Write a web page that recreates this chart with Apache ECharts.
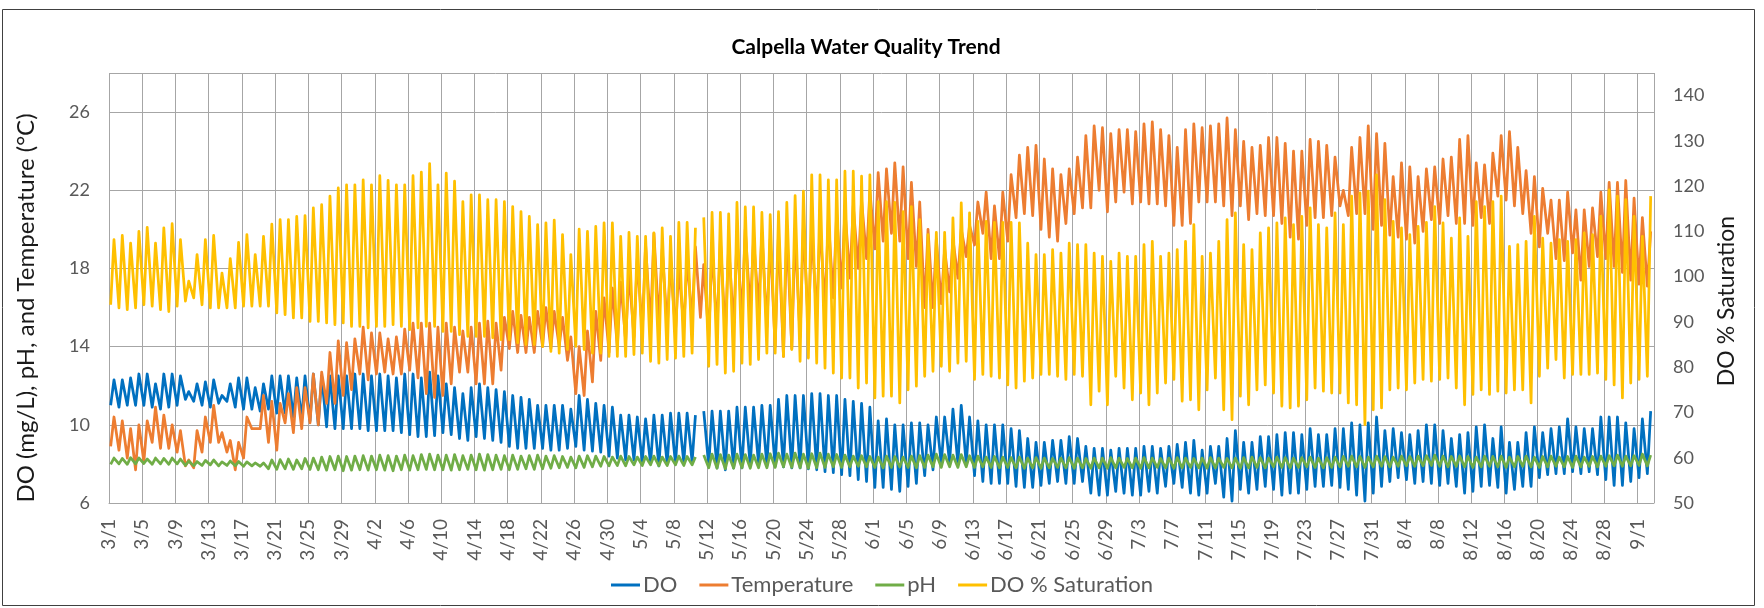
<!DOCTYPE html>
<html>
<head>
<meta charset="utf-8">
<title>Calpella Water Quality Trend</title>
<script src="https://cdn.jsdelivr.net/npm/echarts@6/dist/echarts.min.js"></script>
<style>
  html, body { margin: 0; padding: 0; background: #fff; }
  #chart { width: 1764px; height: 608px; }
</style>
</head>
<body>
<div id="chart"></div>
<script>
// x axis tick labels, one every 4 days starting 3/1
const dateLabels = ['3/1', '3/5', '3/9', '3/13', '3/17', '3/21', '3/25', '3/29',
  '4/2', '4/6', '4/10', '4/14', '4/18', '4/22', '4/26', '4/30',
  '5/4', '5/8', '5/12', '5/16', '5/20', '5/24', '5/28',
  '6/1', '6/5', '6/9', '6/13', '6/17', '6/21', '6/25', '6/29',
  '7/3', '7/7', '7/11', '7/15', '7/19', '7/23', '7/27', '7/31',
  '8/4', '8/8', '8/12', '8/16', '8/20', '8/24', '8/28', '9/1']

// daily highs / lows, day 0 = 3/1 (null = no reading)
const doMax = [
  12.3, 12.3, 12.4, 12.6, 12.6, 12.1, 12.6, 12.6, 12.5, 11.7,
  12.1, 12.2, 12.3, 11.5, 12.1, 12.4, 12.4, 11.9, 12.1, 12.5,
  12.5, 12.5, 12.4, 12.5, 12.6, 12.5, 12.5, 12.5, 12.5, 12.6,
  12.6, 12.5, 12.6, 12.5, 12.4, 12.6, 12.6, 12.4, 12.7, 12.5,
  12.1, 11.9, 11.6, 11.9, 12.1, 11.9, 11.8, 11.7, 11.5, 11.4,
  11.3, 11.0, 11.0, 11.0, 11.0, 10.8, 11.5, 11.3, 11.1, 11.0,
  10.9, 10.5, 10.5, 10.4, 10.3, 10.5, 10.5, 10.6, 10.6, 10.6,
  10.5, 10.7, 10.7, 10.7, 10.7, 10.9, 10.9, 10.9, 11.0, 11.0,
  11.3, 11.5, 11.5, 11.5, 11.6, 11.6, 11.5, 11.5, 11.3, 11.2,
  11.1, 10.9, 10.2, 10.3, 10.0, 10.0, 10.1, 10.1, 10.0, 10.4,
  10.4, 10.8, 11.0, 10.4, 10.2, 10.0, 10.0, 10.0, 9.8, 9.7,
  9.3, 9.1, 9.1, 9.2, 9.2, 9.4, 9.3, 8.9, 8.8, 8.8,
  8.7, 8.8, 8.8, 8.8, 8.9, 8.9, 8.8, 8.9, 9.0, 9.1,
  9.2, 8.7, 8.9, 8.9, 9.3, 9.7, 9.1, 9.1, 9.4, 9.4,
  9.5, 9.6, 9.6, 9.5, 9.8, 9.5, 9.5, 9.8, 9.8, 10.1,
  10.0, 10.1, 10.4, 9.7, 9.8, 9.6, 9.5, 9.7, 10.0, 10.0,
  9.7, 9.3, 9.5, 9.6, 9.9, 10.0, 9.3, 9.9, 9.1, 9.1,
  9.6, 9.9, 9.6, 9.8, 9.9, 10.3, 9.9, 9.8, 9.8, 10.4,
  10.4, 10.4, 10.1, 9.8, 10.3, 10.7]
const doMin = [
  11.0, 10.9, 11.0, 11.0, 11.0, 10.9, 10.8, 10.9, 11.0, 11.3,
  11.2, 11.0, 10.9, 11.1, 11.2, 10.9, 10.8, 10.8, 10.7, 10.8,
  10.6, 10.6, 10.4, 10.3, 10.2, 10.0, 9.9, 9.8, 9.8, 9.8,
  9.8, 9.7, 9.7, 9.7, 9.7, 9.6, 9.5, 9.4, 9.4, 9.45,
  9.6, 9.5, 9.3, 9.2, 9.4, 9.3, 9.2, 9.1, 8.9, 8.8,
  8.8, 8.8, 8.8, 8.7, 8.7, 8.8, 8.9, 8.7, 8.65, 8.6,
  8.4, 8.3, 8.2, 8.2, 8.1, 8.0, 7.9, 8.0, 8.0, 8.05,
  8.1, null, 7.9, 7.8, 7.7, 7.8, 7.8, 7.9, 8.0, 7.9,
  7.9, 7.85, 7.8, 7.8, 7.75, 7.7, 7.6, 7.55, 7.45, 7.4,
  7.2, 7.1, 6.8, 6.8, 6.7, 6.6, 6.85, 7.0, 7.4, 7.7,
  8.0, 8.05, 8.0, 8.0, 7.4, 7.1, 7.0, 7.0, 7.0, 6.85,
  6.8, 6.8, 6.9, 7.0, 7.1, 7.0, 7.0, 7.1, 6.5, 6.4,
  6.4, 6.6, 6.5, 6.4, 6.4, 6.6, 6.5, 6.85, 7.0, 6.8,
  6.5, 6.4, 6.5, 7.0, 6.3, 6.1, 6.7, 6.5, 6.7, 6.85,
  6.7, 6.4, 6.5, 6.5, 6.7, 6.85, 6.85, 6.9, 6.8, 6.7,
  6.4, 6.1, 6.5, 6.85, 7.1, 7.3, 7.2, 7.0, 7.1, 7.0,
  6.9, 7.0, 6.85, 6.5, 6.6, 6.85, 6.9, 6.8, 6.5, 6.7,
  6.85, 6.85, 7.3, 7.45, 7.5, 7.5, 7.6, 7.5, 7.6, 7.45,
  7.2, 6.9, 6.9, 7.1, 7.3, 7.5]

const tempMax = [
  10.4, 10.2, 9.8, 10.0, 10.2, 10.9, 10.5, 10.0, 9.7, 8.2,
  9.7, 10.4, 11.0, 9.6, 9.2, 9.1, 10.4, 9.8, 11.5, 11.2,
  11.1, 11.6, 11.9, 11.9, 12.6, 12.7, 13.7, 14.3, 14.2, 14.4,
  15.0, 14.7, 14.7, 14.4, 14.5, 14.9, 15.2, 15.2, 15.2, 15.0,
  15.2, 15.0, 14.8, 15.0, 15.2, 15.3, 15.2, 15.5, 15.8, 15.6,
  15.5, 15.8, 16.0, 15.8, 15.5, 14.5, 14.0, 14.8, 15.8, 16.5,
  17.0, 17.3, 17.8, 18.5, 19.2, 19.8, 19.0, 18.3, 18.0, 18.5,
  19.1, 18.2, 19.0, 19.5, 19.2, 19.6, 20.0, 19.5, 19.8, 19.5,
  19.8, 20.0, 19.8, 20.2, 20.0, 20.3, 20.5, 20.8, 21.0, 21.2,
  21.5, 22.0, 22.9, 23.1, 23.4, 23.2, 22.4, 21.4, 20.0, 19.5,
  19.0, 19.5, 20.0, 20.2, 21.4, 21.9, 21.2, 21.9, 22.8, 23.8,
  24.2, 24.3, 23.6, 23.1, 22.8, 23.1, 23.7, 24.8, 25.3, 25.2,
  24.9, 25.1, 25.1, 25.0, 25.4, 25.5, 25.1, 24.8, 24.2, 25.1,
  25.4, 25.2, 25.3, 25.4, 25.7, 25.1, 24.5, 24.2, 24.3, 24.7,
  24.7, 24.4, 24.0, 24.0, 24.6, 24.5, 24.3, 23.7, 22.0, 24.2,
  24.7, 25.3, 24.9, 24.4, 22.7, 23.4, 23.2, 22.7, 23.1, 23.2,
  23.6, 23.7, 24.6, 24.8, 23.4, 23.3, 23.9, 24.8, 25.0, 24.2,
  23.0, 22.7, 22.1, 21.5, 21.5, 21.9, 21.0, 21.0, 21.1, 21.9,
  22.4, 22.4, 22.5, 21.6, 20.6, 19.9]
const tempMin = [
  8.9, 8.7, 8.3, 7.7, 8.1, 9.1, 8.8, 8.8, 8.6, 7.9,
  7.8, 8.6, 9.1, 9.1, 8.6, 7.7, 8.3, 9.8, 9.8, 9.1,
  8.7, 10.1, 9.6, 9.8, 10.1, 10.0, 11.1, 11.1, 11.5, 11.8,
  12.6, 12.3, 12.6, 12.7, 12.6, 12.6, 12.8, 12.4, 11.6, 11.4,
  11.5, 12.1, 12.7, 12.7, 12.1, 12.1, 12.1, 12.8, 13.9, 13.7,
  13.7, 13.7, 14.0, 13.9, 14.0, 13.3, 11.6, 11.5, 12.2, 13.3,
  13.7, 14.0, 14.3, 14.5, 14.8, 15.0, 15.2, 15.0, 14.8, 15.0,
  15.3, 15.5, 14.5, 14.8, 14.6, 15.0, 15.5, 15.8, 16.0, 15.0,
  14.0, 13.5, 13.9, 14.5, 15.0, 15.5, 16.0, 16.5, 17.0, 17.5,
  18.0, 18.5, 19.0, 19.4, 19.8, 19.4, 18.5, 18.1, 16.0, 16.0,
  16.2, 16.8, 17.5, 18.6, 19.2, 19.8, 18.5, 18.5, 19.4, 20.6,
  20.8, 20.7, 20.0, 19.6, 19.4, 20.3, 20.8, 21.1, 21.1, 22.0,
  20.9, 21.4, 21.9, 21.3, 21.4, 21.3, 21.3, 21.2, 20.2, 20.2,
  20.3, 21.4, 21.4, 21.4, 21.2, 20.7, 21.2, 20.5, 20.8, 20.7,
  20.7, 20.3, 19.6, 19.5, 20.2, 20.6, 20.6, 20.7, 21.2, 20.7,
  20.8, 20.8, 20.0, 20.2, 19.7, 19.6, 19.5, 19.3, 19.9, 20.5,
  20.3, 20.7, 20.3, 20.3, 20.2, 20.6, 20.3, 21.7, 21.5, 21.2,
  20.8, 19.8, 19.1, 19.8, 18.5, 18.4, 18.8, 17.4, 18.1, 18.6,
  18.5, 18.1, 17.8, 17.4, 17.2, 17.1]

const phMax = [
  8.3, 8.28, 8.32, 8.3, 8.25, 8.3, 8.28, 8.3, 8.25, 8.15,
  8.12, 8.18, 8.2, 8.1, 8.15, 8.12, 8.1, 8.05, 8.05, 8.2,
  8.22, 8.25, 8.2, 8.28, 8.3, 8.35, 8.38, 8.4, 8.38, 8.4,
  8.42, 8.4, 8.45, 8.42, 8.4, 8.45, 8.42, 8.48, 8.5, 8.45,
  8.45, 8.48, 8.42, 8.45, 8.5, 8.48, 8.45, 8.42, 8.45, 8.4,
  8.42, 8.45, 8.4, 8.42, 8.38, 8.35, 8.4, 8.42, 8.4, 8.38,
  8.35, 8.4, 8.38, 8.35, 8.38, 8.4, 8.35, 8.38, 8.4, 8.38,
  8.35, 8.45, 8.5, 8.48, 8.45, 8.5, 8.48, 8.45, 8.5, 8.52,
  8.55, 8.5, 8.55, 8.5, 8.52, 8.55, 8.5, 8.48, 8.45, 8.4,
  8.42, 8.38, 8.35, 8.4, 8.38, 8.35, 8.4, 8.42, 8.45, 8.5,
  8.48, 8.45, 8.48, 8.42, 8.4, 8.35, 8.38, 8.35, 8.32, 8.35,
  8.3, 8.32, 8.3, 8.28, 8.3, 8.32, 8.3, 8.28, 8.3, 8.3,
  8.32, 8.3, 8.28, 8.3, 8.32, 8.3, 8.28, 8.3, 8.32, 8.3,
  8.28, 8.3, 8.32, 8.3, 8.28, 8.3, 8.32, 8.35, 8.32, 8.3,
  8.35, 8.32, 8.3, 8.32, 8.35, 8.3, 8.32, 8.35, 8.38, 8.4,
  8.38, 8.35, 8.4, 8.38, 8.35, 8.4, 8.38, 8.4, 8.42, 8.45,
  8.4, 8.38, 8.4, 8.38, 8.35, 8.4, 8.38, 8.4, 8.35, 8.38,
  8.4, 8.35, 8.38, 8.4, 8.35, 8.38, 8.4, 8.35, 8.38, 8.4,
  8.42, 8.45, 8.4, 8.42, 8.5, 8.45]
const phMin = [
  7.98, 8.0, 7.98, 8.0, 8.02, 7.98, 8.0, 7.98, 8.0, 7.92,
  7.9, 7.92, 7.95, 7.9, 7.92, 7.9, 7.88, 7.9, 7.88, 7.75,
  7.72, 7.75, 7.72, 7.75, 7.72, 7.7, 7.68, 7.7, 7.65, 7.68,
  7.7, 7.68, 7.7, 7.68, 7.65, 7.7, 7.68, 7.7, 7.72, 7.7,
  7.7, 7.68, 7.7, 7.72, 7.7, 7.68, 7.7, 7.72, 7.7, 7.72,
  7.75, 7.72, 7.75, 7.78, 7.8, 7.82, 7.8, 7.82, 7.85, 7.88,
  7.9, 7.92, 7.9, 7.95, 7.92, 7.95, 7.9, 7.92, 7.95, 7.92,
  7.95, null, 7.8, 7.78, 7.75, 7.78, 7.8, 7.78, 7.8, 7.8,
  7.82, 7.85, 7.82, 7.8, 7.78, 7.8, 7.82, 7.85, 7.82, 7.85,
  7.88, 7.85, 7.82, 7.8, 7.82, 7.85, 7.82, 7.8, 7.82, 7.85,
  7.82, 7.85, 7.82, 7.85, 7.82, 7.85, 7.82, 7.8, 7.82, 7.8,
  7.78, 7.8, 7.78, 7.8, 7.82, 7.8, 7.78, 7.8, 7.78, 7.8,
  7.78, 7.8, 7.82, 7.8, 7.78, 7.8, 7.82, 7.8, 7.78, 7.8,
  7.82, 7.8, 7.78, 7.8, 7.82, 7.8, 7.78, 7.8, 7.82, 7.8,
  7.85, 7.82, 7.8, 7.82, 7.85, 7.82, 7.8, 7.82, 7.85, 7.88,
  7.85, 7.82, 7.85, 7.88, 7.85, 7.88, 7.9, 7.88, 7.9, 7.92,
  7.88, 7.85, 7.88, 7.85, 7.82, 7.85, 7.88, 7.85, 7.82, 7.85,
  7.88, 7.85, 7.82, 7.85, 7.88, 7.85, 7.82, 7.85, 7.88, 7.85,
  7.88, 7.9, 7.88, 7.9, 7.92, 7.9]

const satMax = [
  108.2, 109.1, 107.4, 110.0, 110.9, 107.4, 110.8, 111.7, 108.2, 99.0,
  104.9, 108.2, 109.1, 100.8, 104.0, 107.6, 109.3, 104.9, 108.9, 111.6,
  112.6, 112.6, 113.3, 113.5, 115.2, 115.9, 117.8, 119.6, 120.3, 120.3,
  121.4, 120.3, 122.3, 121.3, 120.3, 120.3, 122.3, 123.1, 125.0, 120.3,
  122.9, 121.1, 116.6, 118.1, 118.1, 117.0, 117.0, 116.6, 115.5, 114.4,
  113.3, 111.5, 111.9, 112.5, 109.3, 104.9, 110.5, 110.0, 111.1, 111.9,
  111.9, 108.9, 109.8, 108.9, 108.9, 109.7, 110.8, 108.9, 112.0, 112.0,
  110.8, 113.1, 114.2, 114.2, 113.9, 116.4, 115.4, 115.4, 114.2, 113.7,
  114.4, 116.4, 117.9, 118.9, 122.5, 122.5, 121.4, 121.4, 123.3, 123.3,
  122.2, 122.5, 116.6, 116.6, 116.4, 114.4, 115.5, 112.6, 109.3, 109.8,
  109.8, 113.0, 116.3, 114.1, 112.2, 112.2, 112.0, 112.0, 112.0, 111.9,
  107.4, 104.9, 104.9, 106.0, 105.2, 107.4, 107.1, 107.1, 105.2, 104.5,
  103.4, 105.2, 104.5, 104.5, 107.1, 107.8, 104.5, 105.2, 106.0, 107.8,
  111.5, 104.5, 105.2, 107.8, 112.6, 114.1, 107.1, 106.0, 109.7, 110.8,
  111.9, 113.0, 111.5, 113.3, 115.2, 111.5, 110.8, 114.1, 111.5, 117.8,
  118.5, 118.9, 122.5, 117.0, 112.2, 110.8, 109.3, 111.1, 112.0, 115.5,
  111.9, 108.5, 113.0, 108.9, 116.6, 115.5, 116.6, 117.8, 106.7, 107.1,
  107.8, 113.3, 108.5, 107.4, 108.2, 107.8, 108.2, 109.7, 109.3, 113.3,
  119.2, 117.8, 117.0, 113.3, 108.9, 117.8]
const satMin = [
  93.8, 93.1, 92.7, 93.1, 93.8, 93.5, 92.7, 92.3, 93.5, 94.6,
  95.3, 93.8, 93.1, 93.1, 93.1, 93.1, 93.5, 93.5, 93.5, 93.5,
  92.0, 91.6, 90.9, 90.9, 90.1, 90.1, 89.8, 89.4, 89.8, 89.0,
  89.0, 88.7, 89.0, 89.0, 89.4, 89.0, 88.3, 88.7, 89.0, 89.0,
  87.9, 87.9, 87.2, 86.8, 86.8, 86.8, 86.5, 86.1, 86.1, 85.4,
  85.0, 85.0, 84.6, 83.5, 83.1, 83.9, 84.6, 83.9, 83.1, 83.1,
  82.4, 82.4, 82.4, 82.8, 83.1, 81.3, 80.9, 81.7, 82.0, 82.4,
  83.1, null, 80.2, 80.6, 78.7, 79.1, 80.9, 80.6, 81.7, 83.1,
  83.1, 82.4, 83.9, 81.3, 82.0, 80.9, 79.8, 78.7, 77.6, 77.6,
  75.4, 76.5, 73.2, 73.6, 73.6, 72.1, 75.0, 75.8, 78.0, 79.1,
  80.2, 79.1, 80.9, 81.3, 77.3, 78.4, 78.0, 77.6, 76.1, 75.4,
  76.9, 77.6, 78.4, 78.4, 78.0, 77.3, 78.4, 78.0, 71.7, 74.7,
  71.7, 78.0, 75.4, 72.8, 74.3, 71.7, 74.3, 76.5, 77.3, 72.5,
  72.8, 70.6, 75.0, 77.6, 70.6, 68.4, 73.6, 71.7, 75.0, 76.1,
  74.3, 71.4, 71.0, 71.4, 72.8, 75.4, 74.7, 74.3, 74.3, 72.1,
  71.7, 67.3, 70.6, 71.0, 75.0, 75.4, 75.0, 76.5, 77.3, 76.9,
  77.3, 77.6, 75.4, 71.7, 74.0, 75.0, 74.0, 74.7, 74.3, 75.0,
  75.0, 72.1, 78.0, 79.8, 81.7, 77.6, 78.4, 78.4, 78.4, 78.7,
  77.3, 76.1, 73.2, 76.5, 77.3, 78.0]

// each day: low in the early morning, high in the afternoon
function dailyPoints(lows, highs) {
    const pts = []
    for (let d = 0; d < lows.length; d++) {
        pts.push([d + 0.2, lows[d] == null ? '-' : lows[d]])
        pts.push([d + 0.6, highs[d] == null ? '-' : highs[d]])
    }
    return pts
}

const FONT = 'Lato, "Noto Sans", sans-serif'
const GRID = '#a6a6a6'

const chart = echarts.init(document.getElementById('chart'))

const lineSeries = (name, color, axis, lows, highs) => ({
    name,
    type: 'line',
    yAxisIndex: axis,
    showSymbol: false,
    symbol: 'none',
    connectNulls: false,
    lineStyle: { color, width: 2.75, join: 'round' },
    itemStyle: { color },
    data: dailyPoints(lows, highs)
})

chart.setOption({
    animation: false,
    backgroundColor: '#fff',
    textStyle: { fontFamily: FONT },
    title: {
        text: 'Calpella Water Quality Trend',
        left: 861,
        textAlign: 'center',
        top: 32,
        textStyle: { fontFamily: FONT, fontSize: 21, fontWeight: 'bold', color: '#000' }
    },
    graphic: [{
        type: 'rect',
        shape: { x: 2.5, y: 9.5, width: 1752, height: 596 },
        style: { fill: 'none', stroke: '#404040', lineWidth: 1 },
        silent: true
    }],
    legend: {
        left: 'center',
        top: 569,
        icon: 'rect',
        itemWidth: 29,
        itemHeight: 3,
        itemGap: 22,
        textStyle: { fontFamily: FONT, fontSize: 22, color: '#595959', padding: [0, 0, 0, -2] },
        data: ['DO', 'Temperature', 'pH', 'DO % Saturation']
    },
    grid: { left: 109, right: 110, top: 73, bottom: 105, containLabel: false },
    xAxis: {
        type: 'value',
        min: 0,
        max: 186,
        interval: 4,
        axisLine: { show: true, lineStyle: { color: GRID } },
        axisTick: { show: false },
        splitLine: { show: true, lineStyle: { color: GRID, width: 1 } },
        axisLabel: {
            rotate: 90,
            margin: 16,
            fontSize: 19,
            fontFamily: FONT,
            color: '#595959',
            showMaxLabel: false,
            formatter: v => (v % 4 === 0 && dateLabels[v / 4]) || ''
        }
    },
    yAxis: [{
        type: 'value',
        min: 6,
        max: 28,
        interval: 4,
        name: 'DO (mg/L), pH, and Temperature (°C)',
        nameLocation: 'middle',
        nameRotate: 90,
        nameGap: 71,
        nameTextStyle: { fontFamily: FONT, fontSize: 24, color: '#1a1a1a', padding: [0, 40, 0, 0] },
        axisLine: { show: false },
        axisTick: { show: false },
        splitLine: { show: true, lineStyle: { color: GRID, width: 1 } },
        axisLabel: { margin: 19, fontSize: 18, fontFamily: FONT, color: '#595959', showMaxLabel: false }
    }, {
        type: 'value',
        min: 50,
        max: 145,
        interval: 10,
        position: 'right',
        name: 'DO % Saturation',
        nameLocation: 'middle',
        nameRotate: 90,
        nameGap: 54,
        nameTextStyle: { fontFamily: FONT, fontSize: 23, color: '#1a1a1a', padding: [0, 26, 0, 0] },
        axisLine: { show: false },
        axisTick: { show: false },
        splitLine: { show: false },
        axisLabel: { margin: 19, fontSize: 18, fontFamily: FONT, color: '#595959', showMaxLabel: false }
    }],
    series: [
        lineSeries('DO', '#0070C0', 0, doMin, doMax),
        lineSeries('Temperature', '#ED7D31', 0, tempMin, tempMax),
        lineSeries('pH', '#70AD47', 0, phMin, phMax),
        lineSeries('DO % Saturation', '#FFC000', 1, satMin, satMax)
    ]
})

window.addEventListener('resize', () => chart.resize())
</script>
</body>
</html>
